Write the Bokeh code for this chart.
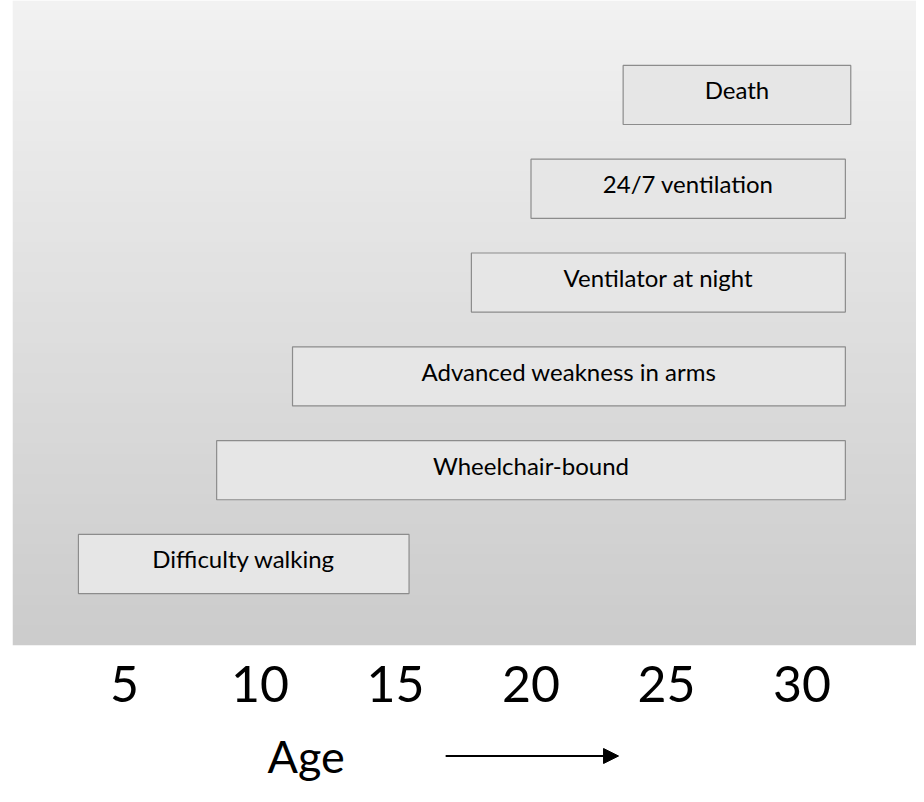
import numpy as np
from bokeh.plotting import figure
from bokeh.layouts import column
from bokeh.models import ColumnDataSource, Range1d, FixedTicker, Arrow, NormalHead
from bokeh.core.properties import value
from bokeh.embed import file_html
from bokeh.resources import INLINE

# ---- data ----
events = ["Difficulty walking", "Wheelchair-bound", "Advanced weakness in arms",
          "Ventilator at night", "24/7 ventilation", "Death"]
start_age = [3.3, 8.4, 11.2, 17.8, 20.0, 23.4]
end_age = [15.5, 31.6, 31.6, 31.6, 31.6, 31.8]
rows = [0, 1, 2, 3, 4, 5]
tick_ages = [5, 10, 15, 20, 25, 30]
axis_title = ["Age"]
axis_title_age = [11.7]
arrow_from_age = 16.85
arrow_to_age = 23.23

FONT = "Lato"
W = 916
H_TOP = 725
H_BOTTOM = 61

x_range = Range1d(0.867, 34.225)
y0, y1 = -0.869, 6.007

p = figure(width=W, height=H_TOP, output_backend="svg", toolbar_location=None,
           x_range=x_range, y_range=Range1d(y0, y1),
           min_border_left=12, min_border_right=0, min_border_top=0, min_border_bottom=80)
p.outline_line_color = None
p.background_fill_color = "white"
p.border_fill_color = "white"
p.grid.visible = False
p.yaxis.visible = False

# gradient panel (style only)
n = 64
shade = np.linspace(204, 242, n).astype(np.uint8)
img = np.empty((n, 2), dtype=np.uint32)
view = img.view(dtype=np.uint8).reshape((n, 2, 4))
view[:, :, 0] = shade[:, None]
view[:, :, 1] = shade[:, None]
view[:, :, 2] = shade[:, None]
view[:, :, 3] = 255
p.image_rgba(image=[img], x=x_range.start, y=y0,
             dw=x_range.end - x_range.start, dh=y1 - y0)

src = ColumnDataSource(dict(
    event=events, left=start_age, right=end_age, row=rows,
    mid=[(a + b) / 2 for a, b in zip(start_age, end_age)],
))
p.hbar(y="row", left="left", right="right", height=0.63, source=src,
       fill_color="#e6e6e6", line_color="#8c8c8c", line_width=1.2)
p.text(x="mid", y="row", text="event", source=src, text_align="center",
       text_baseline="middle", text_font=value(FONT), text_font_size="24px",
       text_color="black", y_offset=-5)

ax = p.xaxis[0]
ax.ticker = FixedTicker(ticks=tick_ages)
ax.axis_line_color = None
ax.major_tick_line_color = None
ax.minor_tick_line_color = None
ax.major_tick_out = 0
ax.major_tick_in = 0
ax.major_label_standoff = 20
ax.major_label_text_font = FONT
ax.major_label_text_font_size = "50px"
ax.major_label_text_color = "black"

# bottom strip: axis title with arrow
q = figure(width=W, height=H_BOTTOM, output_backend="svg", toolbar_location=None,
           x_range=x_range, y_range=Range1d(0, H_BOTTOM),
           min_border_left=12, min_border_right=0, min_border_top=0, min_border_bottom=0)
q.outline_line_color = None
q.background_fill_color = "white"
q.border_fill_color = "white"
q.grid.visible = False
q.axis.visible = False
mid_y = H_BOTTOM / 2
q.text(x=axis_title_age, y=[mid_y], text=axis_title, text_align="center",
       text_baseline="middle", text_font=value(FONT), text_font_size="45px",
       text_color="black")
q.add_layout(Arrow(end=NormalHead(size=15, fill_color="black", line_color="black"),
                   x_start=arrow_from_age, y_start=mid_y, x_end=arrow_to_age, y_end=mid_y,
                   line_width=2, line_color="black"))

layout = column(p, q, spacing=0)
open("out.html", "w").write(file_html(layout, INLINE))
